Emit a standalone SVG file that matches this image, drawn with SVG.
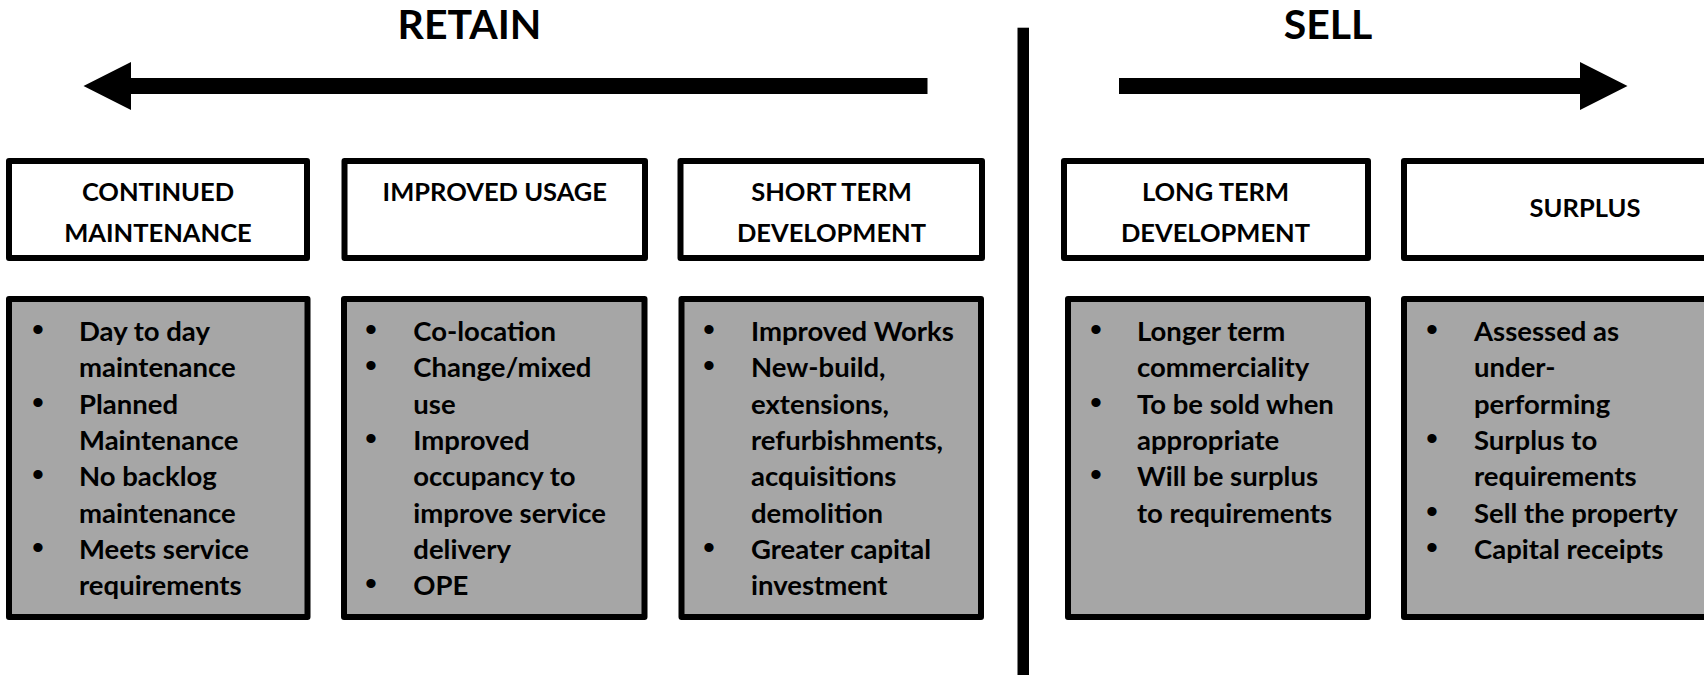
<svg xmlns="http://www.w3.org/2000/svg" width="1704" height="675" viewBox="0 0 1704 675">
<style>
.hdr{fill:#ffffff;stroke:#000;stroke-width:6;stroke-linejoin:round}
.body{fill:#a6a6a6;stroke:#000;stroke-width:6;stroke-linejoin:round}
.t{font-family:Lato,"Open Sans",sans-serif;font-weight:bold;font-size:27.5px;fill:#000}
.h{font-family:Lato,"Open Sans",sans-serif;font-weight:bold;font-size:25.5px;fill:#000;text-anchor:middle}
.title{font-family:Lato,"Open Sans",sans-serif;font-weight:bold;font-size:41px;fill:#000;text-anchor:middle}
.bl{font-family:"Liberation Sans",sans-serif;font-size:34px;fill:#000;text-anchor:middle}
</style>
<rect width="1704" height="675" fill="#fff"/>
<text class="title" x="469.5" y="38.5">RETAIN</text>
<text class="title" x="1328" y="38.5">SELL</text>
<g id="connectors">
<polygon points="83.5,86 131,62 131,78 927.5,78 927.5,94 131,94 131,110"/>
<polygon points="1627.5,86 1580,62 1580,78 1119,78 1119,94 1580,94 1580,110"/>
<rect x="1017.5" y="27.7" width="11.5" height="650"/>
</g>
<g id="continued-maintenance">
<rect class="hdr" x="9" y="161" width="298" height="97"/>
<text class="h" x="158" y="200.7">CONTINUED</text>
<text class="h" x="158" y="241.7">MAINTENANCE</text>
<rect class="body" x="9" y="299" width="298.5" height="318"/>
<text class="bl" x="38" y="341">•</text><text class="bl" x="38" y="413.6">•</text><text class="bl" x="38" y="486.2">•</text><text class="bl" x="38" y="558.8">•</text>
<text class="t"><tspan x="79" y="341">Day to day</tspan><tspan x="79" y="377.3">maintenance</tspan><tspan x="79" y="413.6">Planned</tspan><tspan x="79" y="449.9">Maintenance</tspan><tspan x="79" y="486.2">No backlog</tspan><tspan x="79" y="522.5">maintenance</tspan><tspan x="79" y="558.8">Meets service</tspan><tspan x="79" y="595.1">requirements</tspan></text>
</g>
<g id="improved-usage">
<rect class="hdr" x="344.5" y="161" width="300.5" height="97"/>
<text class="h" x="494.8" y="200.7">IMPROVED USAGE</text>
<rect class="body" x="344" y="299" width="300.5" height="318"/>
<text class="bl" x="371" y="341">•</text><text class="bl" x="371" y="377.3">•</text><text class="bl" x="371" y="449.9">•</text><text class="bl" x="371" y="595.1">•</text>
<text class="t"><tspan x="413.3" y="341">Co-location</tspan><tspan x="413.3" y="377.3">Change/mixed</tspan><tspan x="413.3" y="413.6">use</tspan><tspan x="413.3" y="449.9">Improved</tspan><tspan x="413.3" y="486.2">occupancy to</tspan><tspan x="413.3" y="522.5">improve service</tspan><tspan x="413.3" y="558.8">delivery</tspan><tspan x="413.3" y="595.1">OPE</tspan></text>
</g>
<g id="short-term-development">
<rect class="hdr" x="680.5" y="161" width="301.5" height="97"/>
<text class="h" x="831.5" y="200.7">SHORT TERM</text>
<text class="h" x="831.5" y="241.7">DEVELOPMENT</text>
<rect class="body" x="681.5" y="299" width="299.5" height="318"/>
<text class="bl" x="709" y="341">•</text><text class="bl" x="709" y="377.3">•</text><text class="bl" x="709" y="558.8">•</text>
<text class="t"><tspan x="751" y="341">Improved Works</tspan><tspan x="751" y="377.3">New-build,</tspan><tspan x="751" y="413.6">extensions,</tspan><tspan x="751" y="449.9">refurbishments,</tspan><tspan x="751" y="486.2">acquisitions</tspan><tspan x="751" y="522.5">demolition</tspan><tspan x="751" y="558.8">Greater capital</tspan><tspan x="751" y="595.1">investment</tspan></text>
</g>
<g id="long-term-development">
<rect class="hdr" x="1064" y="161" width="304" height="97"/>
<text class="h" x="1215.5" y="200.7">LONG TERM</text>
<text class="h" x="1215.5" y="241.7">DEVELOPMENT</text>
<rect class="body" x="1068" y="299" width="300" height="318"/>
<text class="bl" x="1096" y="341">•</text><text class="bl" x="1096" y="413.6">•</text><text class="bl" x="1096" y="486.2">•</text>
<text class="t"><tspan x="1137" y="341">Longer term</tspan><tspan x="1137" y="377.3">commerciality</tspan><tspan x="1137" y="413.6">To be sold when</tspan><tspan x="1137" y="449.9">appropriate</tspan><tspan x="1137" y="486.2">Will be surplus</tspan><tspan x="1137" y="522.5">to requirements</tspan></text>
</g>
<g id="surplus">
<rect class="hdr" x="1404" y="161" width="380" height="97"/>
<text class="h" x="1585" y="217.3">SURPLUS</text>
<rect class="body" x="1404" y="299" width="380" height="318"/>
<text class="bl" x="1432" y="341">•</text><text class="bl" x="1432" y="449.9">•</text><text class="bl" x="1432" y="522.5">•</text><text class="bl" x="1432" y="558.8">•</text>
<text class="t"><tspan x="1474" y="341">Assessed as</tspan><tspan x="1474" y="377.3">under-</tspan><tspan x="1474" y="413.6">performing</tspan><tspan x="1474" y="449.9">Surplus to</tspan><tspan x="1474" y="486.2">requirements</tspan><tspan x="1474" y="522.5">Sell the property</tspan><tspan x="1474" y="558.8">Capital receipts</tspan></text>
</g>
</svg>
